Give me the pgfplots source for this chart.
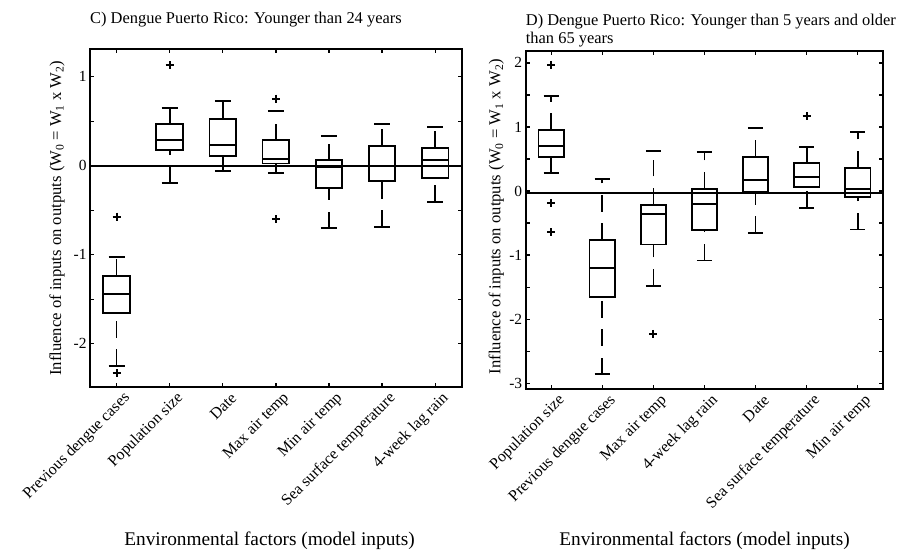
\documentclass[border=0pt]{standalone}
\usepackage{fontspec}
\setmainfont{Liberation Serif}
\usepackage{pgfplots}
\pgfplotsset{compat=1.18}
\usepgfplotslibrary{statistics}
\pgfplotsset{
  boxplot/draw/lower whisker/.code={%
    \draw[dash pattern=on 16.7bp off 11.7bp] (boxplot cs:\pgfplotsboxplotvalue{lower whisker}) -- (boxplot cs:\pgfplotsboxplotvalue{lower quartile});
    \draw[solid] (boxplot whisker cs:\pgfplotsboxplotvalue{lower whisker},0) -- (boxplot whisker cs:\pgfplotsboxplotvalue{lower whisker},1);
  },
  boxplot/draw/upper whisker/.code={%
    \draw[dash pattern=on 16.7bp off 11.7bp] (boxplot cs:\pgfplotsboxplotvalue{upper quartile}) -- (boxplot cs:\pgfplotsboxplotvalue{upper whisker});
    \draw[solid] (boxplot whisker cs:\pgfplotsboxplotvalue{upper whisker},0) -- (boxplot whisker cs:\pgfplotsboxplotvalue{upper whisker},1);
  },
  bp/.style={black, line width=1.8bp, mark=+, mark size=4bp, mark options={line width=1.9bp, solid}},
  mystyle/.style={
    scale only axis, anchor=south west,
    xmin=0.5, xmax=7.5, xtick={1,...,7},
    tick align=inside, tick pos=both,
    major tick length=4bp,
    axis line style={line width=1.8bp},
    every tick/.style={black, line width=1.3bp},
    tick label style={font=\fontsize{15.5}{15.5}\selectfont},
    xticklabel style={rotate=45, anchor=east, xshift=5bp, yshift=-14bp, font=\fontsize{16}{16}\selectfont},
    ylabel style={font=\fontsize{16.7}{17}\selectfont, anchor=center},
    xlabel style={font=\fontsize{19.4}{20}\selectfont, anchor=center},
    title style={font=\fontsize{16.5}{18}\selectfont, anchor=north west, inner sep=0pt, align=left},
    boxplot/draw direction=y,
    boxplot/box extend=0.5, boxplot/whisker extend=0.3,
  },
}
\begin{document}
\begin{tikzpicture}
\path[use as bounding box] (0,0) rectangle (901bp,554bp);
% ---------------- Panel C ----------------
\begin{axis}[mystyle,
  at={(90bp,167bp)}, width=371.7bp, height=337.7bp,
  ymin=-2.486, ymax=1.308,
  ytick={-2,-1.5,...,1}, yticklabels={-2,,-1,,0,,1},
  xticklabels={Previous dengue cases, Population size, Date, Max air temp, Min air temp, Sea surface temperature, 4-week lag rain},
  title={C) Dengue Puerto Rico: Younger than 24 years},
  title style={at={(axis description cs:0,1)}, yshift=31.5bp},
  ylabel={Influence of inputs on outputs (W\textsubscript{0} = W\textsubscript{1} x W\textsubscript{2})},
  ylabel style={at={(axis description cs:-0.089,0.5)}},
  xlabel={Environmental factors (model inputs)},
  xlabel style={at={(axis description cs:0.483,-0.456)}},
]
\addplot[black, line width=1.8bp] coordinates {(0.5,0) (7.5,0)};
\addplot[bp, boxplot prepared={draw position=1, lower whisker=-2.25, lower quartile=-1.655, median=-1.44, upper quartile=-1.236, upper whisker=-1.025}]
  table[row sep=\\, y index=0] {data\\ -0.573\\ -2.33\\};
\addplot[bp, boxplot prepared={draw position=2, lower whisker=-0.198, lower quartile=0.18, median=0.285, upper quartile=0.469, upper whisker=0.648}]
  table[row sep=\\, y index=0] {data\\ 1.131\\};
\addplot[bp, boxplot prepared={draw position=3, lower whisker=-0.06, lower quartile=0.109, median=0.229, upper quartile=0.528, upper whisker=0.723}]
  coordinates {};
\addplot[bp, boxplot prepared={draw position=4, lower whisker=-0.086, lower quartile=0.026, median=0.071, upper quartile=0.285, upper whisker=0.615}]
  table[row sep=\\, y index=0] {data\\ 0.753\\ -0.603\\};
\addplot[bp, boxplot prepared={draw position=5, lower whisker=-0.704, lower quartile=-0.254, median=-0.011, upper quartile=0.06, upper whisker=0.337}]
  coordinates {};
\addplot[bp, boxplot prepared={draw position=6, lower whisker=-0.689, lower quartile=-0.169, median=0.0, upper quartile=0.221, upper whisker=0.469}]
  coordinates {};
\addplot[bp, boxplot prepared={draw position=7, lower whisker=-0.408, lower quartile=-0.135, median=0.06, upper quartile=0.202, upper whisker=0.431}]
  coordinates {};
\end{axis}
% ---------------- Panel D ----------------
\begin{axis}[mystyle,
  at={(525.7bp,164.7bp)}, width=357.6bp, height=338.6bp,
  ymin=-3.094, ymax=2.19,
  ytick={-3,-2.5,...,2}, yticklabels={-3,,-2,,-1,,0,,1,,2},
  xticklabels={Population size, Previous dengue cases, Max air temp, 4-week lag rain, Date, Sea surface temperature, Min air temp},
  title={D) Dengue Puerto Rico: Younger than 5 years and older\\than 65 years},
  title style={at={(axis description cs:0,1)}, yshift=30.5bp},
  ylabel={Influence of inputs on outputs (W\textsubscript{0} = W\textsubscript{1} x W\textsubscript{2})},
  ylabel style={at={(axis description cs:-0.082,0.51)}},
  xlabel={Environmental factors (model inputs)},
  xlabel style={at={(axis description cs:0.5,-0.448)}},
]
\addplot[black, line width=1.8bp] coordinates {(0.5,-0.03) (7.5,-0.03)};
\addplot[bp, boxplot prepared={draw position=1, lower whisker=0.276, lower quartile=0.536, median=0.703, upper quartile=0.953, upper whisker=1.484}]
  table[row sep=\\, y index=0] {data\\ 1.969\\ -0.183\\ -0.646\\};
\addplot[bp, boxplot prepared={draw position=2, lower whisker=-2.86, lower quartile=-1.656, median=-1.203, upper quartile=-0.766, upper whisker=0.182}]
  coordinates {};
\addplot[bp, boxplot prepared={draw position=3, lower whisker=-1.48, lower quartile=-0.833, median=-0.359, upper quartile=-0.214, upper whisker=0.625}]
  table[row sep=\\, y index=0] {data\\ -2.23\\};
\addplot[bp, boxplot prepared={draw position=4, lower whisker=-1.083, lower quartile=-0.609, median=-0.198, upper quartile=0.036, upper whisker=0.614}]
  coordinates {};
\addplot[bp, boxplot prepared={draw position=5, lower whisker=-0.656, lower quartile=-0.02, median=0.172, upper quartile=0.536, upper whisker=0.989}]
  coordinates {};
\addplot[bp, boxplot prepared={draw position=6, lower whisker=-0.261, lower quartile=0.058, median=0.219, upper quartile=0.443, upper whisker=0.693}]
  table[row sep=\\, y index=0] {data\\ 1.167\\};
\addplot[bp, boxplot prepared={draw position=7, lower whisker=-0.6, lower quartile=-0.099, median=0.026, upper quartile=0.364, upper whisker=0.917}]
  coordinates {};
\end{axis}
\end{tikzpicture}
\end{document}
